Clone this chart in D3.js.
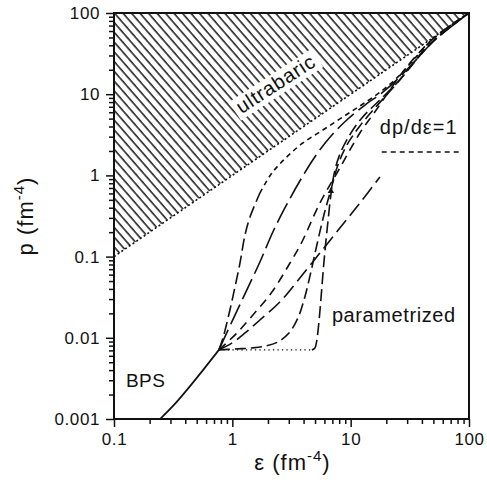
<!DOCTYPE html>
<html><head><meta charset="utf-8">
<script src="https://cdn.jsdelivr.net/npm/d3@7"></script>
<style>
body{margin:0;background:#fff;}
svg text{font-family:"Liberation Sans",Arial,Helvetica,sans-serif;fill:#111;}
</style></head><body>
<svg id="c" width="487" height="484"></svg>
<script>
// ---- data ----
const xTicks=[0.1,1,10,100];
const xTickLabels=["0.1","1","10","100"];
const yTicks=[0.001,0.01,0.1,1,10,100];
const yTickLabels=["0.001","0.01","0.1","1","10","100"];
const ultrabaricEdge=[[0.1,0.1],[100,100]];
const ultrabaricRegion=[[0.1,0.1],[0.1,100],[100,100]];
const bps=[[0.245,0.001],[0.32,0.00148],[0.41,0.00225],[0.565,0.0040],[0.77,0.0071]];
const plateau=[[0.77,0.0071],[4.70,0.0071]];
// dp/de=1 curve: lower part (long dashes) and upper part (short dashes)
const curveAlow=[[0.77,0.0071],[0.833,0.0099],[0.954,0.022],[1.052,0.042],[1.16,0.083],[1.28,0.185],[1.41,0.307],[1.71,0.607]];
const curveAup=[[1.71,0.607],[2.16,1.07],[2.89,1.69],[3.95,2.51],[5.82,3.62],[8.59,5.24],[12.68,7.57],[18.7,11.26],[26.0,17.2],[34.9,27.9],[46.7,44.0],[68.8,69.2],[100,100]];
const curveB=[[0.77,0.0071],[0.99,0.0157],[1.30,0.0366],[1.71,0.0858],[2.20,0.201],[2.78,0.397],[3.72,0.853],[5.18,1.834],[6.94,3.14],[9.47,4.95],[13.2,7.36],[18.7,10.6],[26.0,16.3],[36.95,27.9],[51.4,46.5],[100,100]];
const curveC=[[0.77,0.0071],[0.99,0.0086],[1.28,0.01146],[1.71,0.01656],[2.52,0.0276],[3.72,0.0545],[5.50,0.111],[8.10,0.225],[11.96,0.457],[17.65,0.956]];
const curveD=[[0.77,0.0071],[1.07,0.0111],[1.493,0.0191],[2.16,0.0366],[3.07,0.0834],[3.87,0.1513],[5.50,0.457],[8.10,1.233],[11.96,3.33],[16.0,6.04],[20.6,10.34],[27.1,18.2],[37.0,31.3],[51.4,50.6],[100,100]];
const curveE=[[0.77,0.0071],[1.052,0.00728],[1.46,0.00749],[1.92,0.00792],[2.43,0.0089],[3.01,0.01146],[3.58,0.0175],[4.10,0.0318],[4.61,0.0646],[5.18,0.139],[5.94,0.325],[6.80,0.661],[7.80,1.34],[9.29,2.37],[11.96,4.06],[16.3,6.96],[22.7,11.9],[31.6,21.0],[42.3,35.0],[62.5,60.0],[100,100]];
const curveF=[[4.70,0.0071],[4.985,0.00749],[5.18,0.00939],[5.39,0.01565],[5.60,0.0292],[5.82,0.0593],[6.05,0.114],[6.42,0.267],[6.80,0.574],[7.21,1.01],[7.95,1.69],[9.47,2.89],[12.43,5.10],[17.65,8.48],[25.0,14.1],[34.2,24.9],[46.7,41.6],[100,100]];
const marker=[6.80,0.64];
const legendLine=[[18.3,1.94],[83.6,1.94]];
const labels=[
  {t:"BPS",e:0.126,p:0.00248,size:19,ls:0.5},
  {t:"parametrized",e:6.94,p:0.0157,size:20,ls:0.6},
  {t:"dp/dε=1",e:17.65,p:3.24,size:20,ls:1}
];

// ---- chart ----
const svg=d3.select("#c");
const L=114,R=469,T=13,B=419;
const x=d3.scaleLog().domain([0.1,100]).range([L,R]);
const y=d3.scaleLog().domain([0.001,100]).range([B,T]);

const defs=svg.append("defs");
const pat=defs.append("pattern").attr("id","hatch").attr("patternUnits","userSpaceOnUse")
  .attr("width",6.4).attr("height",10).attr("patternTransform","rotate(-41)");
pat.append("line").attr("x1",1).attr("y1",0).attr("x2",1).attr("y2",10)
  .attr("stroke","#000").attr("stroke-width",1.35);
defs.append("clipPath").attr("id","clip").append("rect")
  .attr("x",L).attr("y",T).attr("width",R-L).attr("height",B-T);

const line=d3.line().x(d=>x(d[0])).y(d=>y(d[1]));
const smooth=d3.line().x(d=>x(d[0])).y(d=>y(d[1])).curve(d3.curveCatmullRom.alpha(0.5));

const plot=svg.append("g").attr("clip-path","url(#clip)");
plot.append("path").datum(ultrabaricRegion).attr("d",line).attr("fill","url(#hatch)");
plot.append("path").datum(ultrabaricEdge).attr("d",line).attr("fill","none")
  .attr("stroke","#111").attr("stroke-width",1.6).attr("stroke-dasharray","2,2.5");

plot.append("path").datum(bps).attr("d",smooth).attr("fill","none").attr("stroke","#111").attr("stroke-width",1.7);
plot.append("path").datum(plateau).attr("d",line).attr("fill","none").attr("stroke","#111")
  .attr("stroke-width",1.3).attr("stroke-dasharray","1.3,3.2");

const curves=[
  {d:curveAlow,dash:"12,5"},
  {d:curveAup,dash:"5,4"},
  {d:curveB,dash:"22,6"},
  {d:curveC,dash:"15,6"},
  {d:curveD,dash:"9,6"},
  {d:curveE,dash:"11,5"},
  {d:curveF,dash:"12,5"}
];
curves.forEach(c=>{
  plot.append("path").datum(c.d).attr("d",smooth).attr("fill","none")
    .attr("stroke","#111").attr("stroke-width",1.6).attr("stroke-dasharray",c.dash);
});
plot.append("path").attr("d",d3.symbol(d3.symbolTriangle,18)())
  .attr("transform",`translate(${x(marker[0])},${y(marker[1])})`).attr("fill","#111");

// legend sample
svg.append("path").datum(legendLine).attr("d",line).attr("fill","none").attr("stroke","#111")
  .attr("stroke-width",1.5).attr("stroke-dasharray","5,4");

// annotations
labels.forEach(l=>{
  svg.append("text").attr("x",x(l.e)).attr("y",y(l.p)).attr("font-size",l.size)
    .attr("letter-spacing",l.ls).text(l.t);
});
const ang=Math.atan2(y(1)-y(10),x(10)-x(1))*180/Math.PI;
const ub=svg.append("g").attr("transform",`translate(${x(2.5)},${y(11.4)}) rotate(${-ang+1.5})`);
ub.append("rect").attr("x",-49).attr("y",-17).attr("width",98).attr("height",22).attr("fill","#fff");
ub.append("text").attr("text-anchor","middle").attr("font-size",20).attr("letter-spacing",0.8).text("ultrabaric");

// frame
svg.append("rect").attr("x",L).attr("y",T).attr("width",R-L).attr("height",B-T)
  .attr("fill","none").attr("stroke","#111").attr("stroke-width",2);

// axes
function minors(dom){const m=[];for(let e=Math.round(Math.log10(dom[0]));e<Math.round(Math.log10(dom[1]));e++){for(let k=2;k<=9;k++)m.push(k*Math.pow(10,e));}return m;}
const gx=svg.append("g").attr("transform",`translate(0,${B})`);
gx.call(d3.axisBottom(x).tickValues(xTicks).tickFormat((d,i)=>xTickLabels[i]).tickSize(8).tickPadding(6));
gx.append("g").call(d3.axisBottom(x).tickValues(minors(x.domain())).tickFormat("").tickSize(5));
const gy=svg.append("g").attr("transform",`translate(${L},0)`);
gy.call(d3.axisLeft(y).tickValues(yTicks).tickFormat((d,i)=>yTickLabels[i]).tickSize(8).tickPadding(6));
gy.append("g").call(d3.axisLeft(y).tickValues(minors(y.domain())).tickFormat("").tickSize(5));
svg.selectAll(".domain").remove();
svg.selectAll(".tick line").attr("stroke","#111").attr("stroke-width",1.5);
svg.selectAll(".tick text").attr("font-size",17).attr("letter-spacing",0.6)
  .attr("font-family","'Liberation Sans',Arial,sans-serif").attr("fill","#111");

// axis titles
const xt=svg.append("text").attr("x",(L+R)/2+1).attr("y",470).attr("text-anchor","middle")
  .attr("font-size",22).attr("letter-spacing",1);
xt.append("tspan").text("ε (fm");
xt.append("tspan").attr("dy",-9).attr("font-size",15).text("-4");
xt.append("tspan").attr("dy",9).text(")");
const yt=svg.append("text").attr("transform",`translate(33,${(T+B)/2}) rotate(-90)`).attr("text-anchor","middle")
  .attr("font-size",22).attr("letter-spacing",1);
yt.append("tspan").text("p (fm");
yt.append("tspan").attr("dy",-9).attr("font-size",15).text("-4");
yt.append("tspan").attr("dy",9).text(")");
</script>
</body></html>
